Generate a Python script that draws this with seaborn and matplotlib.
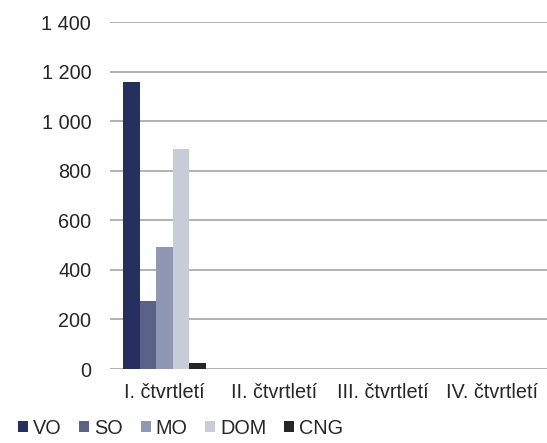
import matplotlib
matplotlib.use("Agg")
import matplotlib.pyplot as plt
import seaborn as sns
import pandas as pd
from matplotlib.ticker import FuncFormatter

quarters = ["I. čtvrtletí", "II. čtvrtletí", "III. čtvrtletí", "IV. čtvrtletí"]
series = ["VO", "SO", "MO", "DOM", "CNG"]
values = {
    "VO":  [1157, 0, 0, 0],
    "SO":  [274, 0, 0, 0],
    "MO":  [493, 0, 0, 0],
    "DOM": [889, 0, 0, 0],
    "CNG": [23, 0, 0, 0],
}
colors = ["#26305f", "#5a6387", "#9097b2", "#c8ccd8", "#262626"]

rows = []
for s in series:
    for q, v in zip(quarters, values[s]):
        rows.append({"q": q, "s": s, "v": v})
df = pd.DataFrame(rows)

sns.set_theme(style="white")
plt.rcParams["font.family"] = ["Liberation Sans", "DejaVu Sans"]

FS = 14.3
fig = plt.figure(figsize=(5.47, 4.43), dpi=100)
ax = fig.add_axes([0.201, 0.167, 0.799, 0.783])

sns.barplot(data=df, x="q", y="v", hue="s", order=quarters, hue_order=series,
            palette=colors, width=0.76, linewidth=0, saturation=1, ax=ax, legend=True)

ax.set_ylim(0, 1400)
ax.set_yticks(range(0, 1401, 200))
ax.yaxis.set_major_formatter(FuncFormatter(lambda v, p: f"{int(v):,}".replace(",", " ")))
ax.grid(axis="y", color="#a6a6a6", linewidth=1.2)
ax.set_axisbelow(True)
for sp in ax.spines.values():
    sp.set_visible(False)
ax.tick_params(axis="both", length=0, labelsize=FS, colors="#262626")
ax.tick_params(axis="y", pad=13.5)
ax.tick_params(axis="x", pad=10)
ax.set_xlabel("")
ax.set_ylabel("")

handles, labels = ax.get_legend_handles_labels()
ax.legend_.remove()
fig.legend(handles, labels, loc="lower left", bbox_to_anchor=(0.0, -0.028), ncol=5,
           frameon=False, fontsize=FS, handlelength=0.5, handleheight=0.5,
           handletextpad=0.25, columnspacing=0.9, labelcolor="#262626")

fig.savefig("out.png", dpi=100)
